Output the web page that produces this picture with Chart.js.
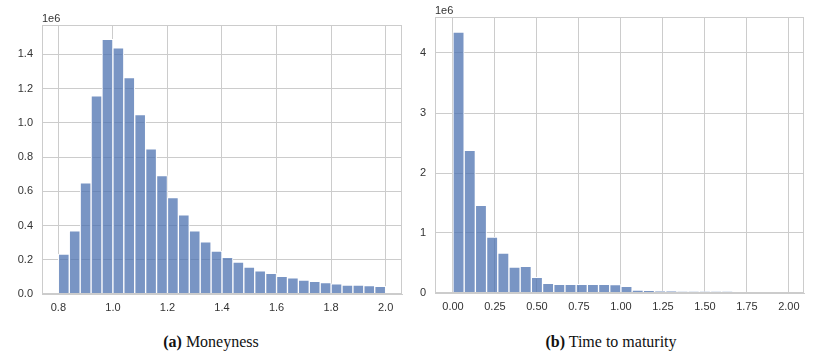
<!DOCTYPE html>
<html>
<head>
<meta charset="utf-8">
<script src="https://cdn.jsdelivr.net/npm/chart.js@4.4.0/dist/chart.umd.min.js"></script>
<style>
    body { margin: 0; background: #fff; width: 816px; height: 356px; position: relative; overflow: hidden; }
    canvas { position: absolute; top: 0; }
    #moneyChart { left: 0; }
    #maturityChart { left: 408px; }
    .caption {
        position: absolute; top: 333px;
        font-family: "Liberation Serif", "Times New Roman", serif;
        font-size: 16px; color: #111; white-space: nowrap;
        transform: translateX(-50%);
    }
    .caption b { font-weight: bold; }
</style>
</head>
<body>
<canvas id="moneyChart" width="408" height="320"></canvas>
<canvas id="maturityChart" width="408" height="320"></canvas>
<div class="caption" style="left: 211px;"><b>(a)</b> Moneyness</div>
<div class="caption" style="left: 611px;"><b>(b)</b> Time to maturity</div>

<script>
// Moneyness histogram (counts in units of 1e6), 30 bins from 0.8 to 2.0
const moneyBinStart = 0.8;
const moneyBinWidth = 0.04;
const moneyCounts = [
    0.233, 0.369, 0.649, 1.157, 1.488, 1.437, 1.264, 1.048, 0.848, 0.691,
    0.563, 0.462, 0.369, 0.305, 0.250, 0.214, 0.186, 0.157, 0.136, 0.120,
    0.103, 0.095, 0.082, 0.074, 0.066, 0.060, 0.052, 0.052, 0.049, 0.045
];
const moneyXTicks = [0.8, 1.0, 1.2, 1.4, 1.6, 1.8, 2.0];
const moneyYTicks = [0, 0.2, 0.4, 0.6, 0.8, 1.0, 1.2, 1.4];

// Time to maturity histogram (counts in units of 1e6), 30 bins from 0 to 2.0
const maturityBinStart = 0;
const maturityBinWidth = 2 / 30;
const maturityCounts = [
    4.350, 2.378, 1.460, 0.930, 0.667, 0.433, 0.444, 0.261, 0.161, 0.144,
    0.144, 0.144, 0.144, 0.144, 0.139, 0.110, 0.047, 0.044, 0.033, 0.033,
    0.022, 0.022, 0.022, 0.022, 0.022, 0, 0, 0, 0, 0
];
const maturityXTicks = [0, 0.25, 0.5, 0.75, 1.0, 1.25, 1.5, 1.75, 2.0];
const maturityYTicks = [0, 1, 2, 3, 4];

const barColor = 'rgba(76, 114, 176, 0.75)';
const gridColor = '#cccccc';
const tickFont = { family: '"Liberation Sans", Arial, sans-serif', size: 11 };
const tickColor = '#333333';

/**
 * Frame around the plot area plus the "1e6" offset label
 */
const framePlugin = {
    id: 'frame',
    afterDraw(chart) {
        const a = chart.chartArea;
        const ctx = chart.ctx;
        ctx.save();
        ctx.strokeStyle = gridColor;
        ctx.lineWidth = 1;
        ctx.strokeRect(a.left + 0.5, a.top + 0.5, a.right - a.left - 1, a.bottom - a.top - 1);
        ctx.fillStyle = tickColor;
        ctx.font = '11px "Liberation Sans", Arial, sans-serif';
        ctx.textAlign = 'left';
        ctx.textBaseline = 'alphabetic';
        ctx.fillText('1e6', a.left, a.top - 3);
        ctx.restore();
    }
};

function makeHistogram(id, binStart, binWidth, counts, xTicks, yTicks, cfg) {
    const points = counts.map((v, i) => ({ x: binStart + (i + 0.5) * binWidth, y: v }));
    new Chart(document.getElementById(id), {
        type: 'bar',
        data: {
            datasets: [{
                data: points,
                backgroundColor: barColor,
                borderColor: '#ffffff',
                borderWidth: 1,
                barPercentage: 1,
                categoryPercentage: 1
            }]
        },
        options: {
            responsive: false,
            animation: false,
            devicePixelRatio: 1,
            layout: { padding: { left: 0, right: cfg.padRight, top: cfg.padTop, bottom: 0 } },
            plugins: { legend: { display: false }, tooltip: { enabled: false } },
            scales: {
                x: {
                    type: 'linear',
                    offset: false,
                    min: cfg.xMin,
                    max: cfg.xMax,
                    grid: { color: gridColor, drawTicks: false, offset: false },
                    border: { color: gridColor },
                    afterBuildTicks: axis => { axis.ticks = xTicks.map(v => ({ value: v })); },
                    afterFit: axis => { axis.height = cfg.xHeight; },
                    ticks: {
                        padding: 7,
                        font: tickFont,
                        color: tickColor,
                        maxRotation: 0,
                        autoSkip: false,
                        callback: v => v.toFixed(cfg.xDigits)
                    }
                },
                y: {
                    min: 0,
                    max: cfg.yMax,
                    grid: { color: gridColor, drawTicks: false },
                    border: { color: gridColor },
                    afterBuildTicks: axis => { axis.ticks = yTicks.map(v => ({ value: v })); },
                    afterFit: axis => { axis.width = cfg.yWidth; },
                    ticks: {
                        padding: 9,
                        font: tickFont,
                        color: tickColor,
                        callback: v => v.toFixed(cfg.yDigits)
                    }
                }
            }
        },
        plugins: [framePlugin]
    });
}

document.addEventListener('DOMContentLoaded', function() {
    makeHistogram('moneyChart', moneyBinStart, moneyBinWidth, moneyCounts, moneyXTicks, moneyYTicks, {
        xMin: 0.74, xMax: 2.06, yMax: 1.571,
        xDigits: 1, yDigits: 1,
        yWidth: 42, xHeight: 26, padRight: 6, padTop: 25
    });
    makeHistogram('maturityChart', maturityBinStart, maturityBinWidth, maturityCounts, maturityXTicks, maturityYTicks, {
        xMin: -0.107, xMax: 2.09, yMax: 4.6,
        xDigits: 2, yDigits: 0,
        yWidth: 27, xHeight: 27, padRight: 12, padTop: 17
    });
});
</script>
</body>
</html>
